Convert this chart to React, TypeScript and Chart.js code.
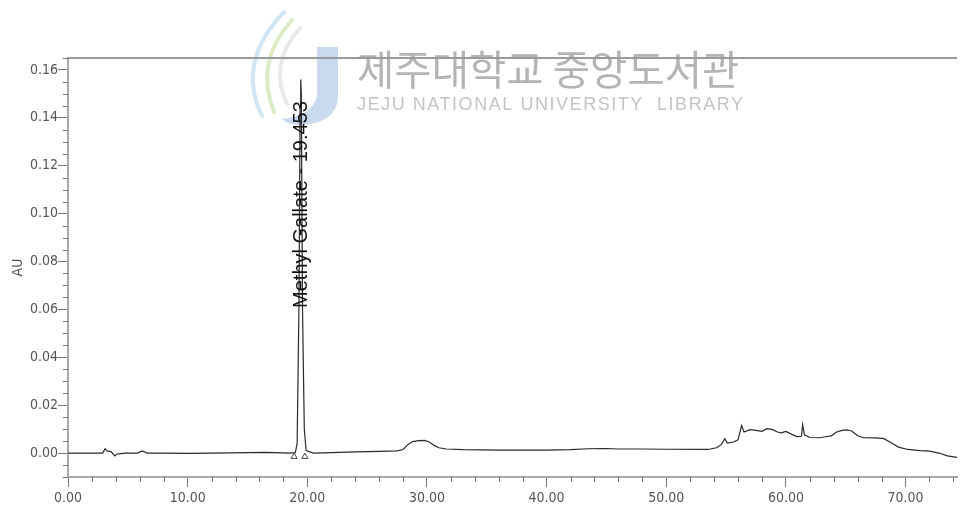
import { useEffect, useRef } from 'react';
import { Chart, registerables } from 'chart.js';

Chart.register(...registerables);

// ---- Data (retention time in minutes, absorbance in AU) ----
const times = [
  0, 2.9, 3.1, 3.3, 3.6, 3.9, 4.1, 4.4, 4.8, 5.8, 6.2, 6.6, 8, 10, 12, 15, 16.5, 18.5,
  19.0, 19.15, 19.3, 19.4, 19.45, 19.5, 19.6, 19.75, 19.9, 20.5,
  22, 24, 26, 27.5, 28.0, 28.4, 28.8, 29.3, 29.8, 30.2, 30.6, 31.0, 31.6, 33, 36, 40,
  42, 43.5, 45, 46, 48, 50, 53.5, 54.2, 54.6, 54.9, 55.1, 55.6, 56.0, 56.3, 56.5,
  57.0, 57.5, 58.0, 58.4, 58.9, 59.3, 59.6, 60.0, 60.5, 60.9, 61.3, 61.4, 61.55,
  62.0, 62.8, 63.3, 63.8, 64.2, 64.7, 65.1, 65.5, 66.0, 66.5, 67.5, 68.2, 68.8,
  69.4, 70.2, 71.2, 72.0, 72.8, 73.5, 74.3,
];
const absorbance = [
  0, 0, 0.0018, 0.0008, 0.0006, -0.0012, -0.0004, -0.0002, 0, 0, 0.0009, 0, 0, -0.0001, 0, 0.0002, 0.0003, 0,
  0.0002, 0.004, 0.06, 0.145, 0.156, 0.15, 0.06, 0.01, 0.001, 0,
  0.0002, 0.0005, 0.0007, 0.0009, 0.0015, 0.0035, 0.0048, 0.0052, 0.0053, 0.0046, 0.0032, 0.0022, 0.0017, 0.0014, 0.0012, 0.0012,
  0.0014, 0.0018, 0.0019, 0.0017, 0.0017, 0.0016, 0.0015, 0.0022, 0.0035, 0.006, 0.0042, 0.0046, 0.0055, 0.0115, 0.0088,
  0.0098, 0.0095, 0.0091, 0.0102, 0.0098, 0.0088, 0.0084, 0.009, 0.0078, 0.0069, 0.007, 0.0118, 0.0076,
  0.0065, 0.0064, 0.0068, 0.0072, 0.0087, 0.0095, 0.0097, 0.0092, 0.0072, 0.0064, 0.0063, 0.006, 0.0043,
  0.0025, 0.0015, 0.001, 0.0008, 0.0, -0.0012, -0.0018,
];
const markerTimes = [18.9, 19.8];
const markerValues = [-0.0015, -0.0015];

const xTickValues = [0, 10, 20, 30, 40, 50, 60, 70];
const yTickValues = [0, 0.02, 0.04, 0.06, 0.08, 0.1, 0.12, 0.14, 0.16];
const xMinorStep = 2;
const yMinorStep = 0.005;
const xMin = 0;
const xMax = 74.3;
const yMin = -0.01;
const yMax = 0.165;

const peakLabel = 'Methyl Gallate - 19.453';
const peakTime = 19.453;
const peakLabelBase = 0.0606;
const yAxisTitle = 'AU';
const watermarkKo = '제주대학교 중앙도서관';
const watermarkEn = 'JEJU NATIONAL UNIVERSITY  LIBRARY';

const FONT = '"Liberation Sans Narrow", "Arial Narrow", "DejaVu Sans Condensed", sans-serif';

function drawWatermark(ctx: CanvasRenderingContext2D) {
  ctx.save();
  ctx.globalAlpha = 0.8;
  // logo arcs
  ctx.lineCap = 'round';
  ctx.lineWidth = 4;
  ctx.strokeStyle = '#c6def2';
  ctx.beginPath();
  ctx.moveTo(284, 12);
  ctx.quadraticCurveTo(236, 62, 262, 116);
  ctx.stroke();
  ctx.strokeStyle = '#d3e6b6';
  ctx.beginPath();
  ctx.moveTo(292, 20);
  ctx.quadraticCurveTo(254, 62, 274, 112);
  ctx.stroke();
  ctx.strokeStyle = '#e3e3e3';
  ctx.beginPath();
  ctx.moveTo(300, 28);
  ctx.quadraticCurveTo(268, 64, 287, 104);
  ctx.stroke();
  // J shape
  ctx.fillStyle = '#bccfea';
  ctx.beginPath();
  ctx.moveTo(317, 47);
  ctx.lineTo(338, 47);
  ctx.lineTo(338, 98);
  ctx.quadraticCurveTo(336, 124, 298, 125);
  ctx.quadraticCurveTo(286, 124, 282, 119);
  ctx.quadraticCurveTo(312, 116, 317, 96);
  ctx.closePath();
  ctx.fill();
  ctx.globalAlpha = 1;

  // Korean title
  ctx.fillStyle = '#b4b4b4';
  ctx.textBaseline = 'middle';
  ctx.textAlign = 'left';
  ctx.font = '40px "Noto Sans CJK KR", sans-serif';
  const wKo = ctx.measureText(watermarkKo).width;
  const sizeKo = 40 * (383 / wKo);
  ctx.font = `${sizeKo.toFixed(1)}px "Noto Sans CJK KR", sans-serif`;
  ctx.fillText(watermarkKo, 357, 70);

  // English subtitle
  ctx.fillStyle = '#c4c4c4';
  ctx.font = '18px "Liberation Sans", Arial, sans-serif';
  const wEn = ctx.measureText(watermarkEn).width;
  const spacing = (386 - wEn) / (watermarkEn.length - 1);
  (ctx as any).letterSpacing = `${spacing.toFixed(2)}px`;
  ctx.fillText(watermarkEn, 357, 105);
  (ctx as any).letterSpacing = '0px';
  ctx.restore();
}

const decorPlugin = {
  id: 'decor',
  beforeDraw(chart: any) {
    drawWatermark(chart.ctx);
  },
  afterDatasetsDraw(chart: any) {
    const { ctx, chartArea, scales } = chart;
    const xs = scales.x;
    const ys = scales.y;
    ctx.save();
    // top frame line
    ctx.strokeStyle = '#9a9a9a';
    ctx.lineWidth = 2;
    ctx.beginPath();
    ctx.moveTo(chartArea.left, chartArea.top);
    ctx.lineTo(chartArea.right, chartArea.top);
    ctx.stroke();

    // minor ticks
    ctx.strokeStyle = '#777';
    ctx.lineWidth = 1;
    ctx.beginPath();
    for (let v = xMin; v <= xMax + 1e-9; v += xMinorStep) {
      if (Math.abs(v / 10 - Math.round(v / 10)) < 1e-6) continue;
      const px = Math.round(xs.getPixelForValue(v)) + 0.5;
      ctx.moveTo(px, chartArea.bottom);
      ctx.lineTo(px, chartArea.bottom + 5);
    }
    for (let i = 0; ; i++) {
      const v = yMin + i * yMinorStep;
      if (v > yMax + 1e-9) break;
      if (Math.abs(v / 0.02 - Math.round(v / 0.02)) < 1e-6) continue;
      const py = Math.round(ys.getPixelForValue(v)) + 0.5;
      ctx.moveTo(chartArea.left - 5, py);
      ctx.lineTo(chartArea.left, py);
    }
    ctx.stroke();

    // peak label
    const px = xs.getPixelForValue(peakTime);
    const py = ys.getPixelForValue(peakLabelBase);
    ctx.translate(px + 1, py);
    ctx.rotate(-Math.PI / 2);
    ctx.fillStyle = '#111';
    ctx.font = '20px "Liberation Sans", Arial, sans-serif';
    ctx.textAlign = 'left';
    ctx.textBaseline = 'middle';
    ctx.fillText(peakLabel, 0, 0);
    ctx.restore();
  },
};

export default function App() {
  const canvasRef = useRef<HTMLCanvasElement | null>(null);

  useEffect(() => {
    const canvas = canvasRef.current;
    if (!canvas) return;
    const chart = new Chart(canvas, {
      type: 'line',
      data: {
        datasets: [
          {
            data: times.map((t, i) => ({ x: t, y: absorbance[i] })),
            borderColor: '#2a2a2a',
            borderWidth: 1.2,
            pointRadius: 0,
            tension: 0,
            fill: false,
          },
          {
            data: markerTimes.map((t, i) => ({ x: t, y: markerValues[i] })),
            showLine: false,
            pointStyle: 'triangle',
            pointRadius: 3.5,
            borderColor: '#444',
            backgroundColor: '#fff',
            borderWidth: 1,
          },
        ],
      },
      options: {
        responsive: false,
        animation: false,
        devicePixelRatio: 1,
        layout: { padding: { top: 58, left: 0, right: 0, bottom: 0 } },
        plugins: { legend: { display: false }, tooltip: { enabled: false } },
        scales: {
          x: {
            type: 'linear',
            min: xMin,
            max: xMax,
            afterBuildTicks: (s: any) => {
              s.ticks = xTickValues.map((value) => ({ value }));
            },
            afterFit: (s: any) => {
              s.height = 31;
            },
            ticks: {
              callback: (v: any) => Number(v).toFixed(2),
              font: { family: FONT, size: 14 },
              color: '#555',
              padding: 3,
              maxRotation: 0,
              autoSkip: false,
            },
            grid: { drawOnChartArea: false, tickLength: 10, tickColor: '#777', tickWidth: 1 },
            border: { display: true, color: '#a8a8a8', width: 2 },
          },
          y: {
            type: 'linear',
            min: yMin,
            max: yMax,
            afterBuildTicks: (s: any) => {
              s.ticks = yTickValues.map((value) => ({ value }));
            },
            afterFit: (s: any) => {
              s.width = 68;
            },
            ticks: {
              callback: (v: any) => Number(v).toFixed(2),
              font: { family: FONT, size: 14 },
              color: '#555',
              padding: 0,
              autoSkip: false,
            },
            title: {
              display: true,
              text: yAxisTitle,
              font: { family: FONT, size: 14 },
              color: '#555',
              padding: { top: 10, bottom: 0 },
            },
            grid: { drawOnChartArea: false, tickLength: 10, tickColor: '#777', tickWidth: 1 },
            border: { display: true, color: '#a8a8a8', width: 2 },
          },
        },
      },
      plugins: [decorPlugin],
    });
    return () => chart.destroy();
  }, []);

  return (
    <div style={{ position: 'absolute', left: 0, top: 0, width: 962, height: 508, background: '#fff' }}>
      <canvas ref={canvasRef} width={962} height={508} />
    </div>
  );
}
